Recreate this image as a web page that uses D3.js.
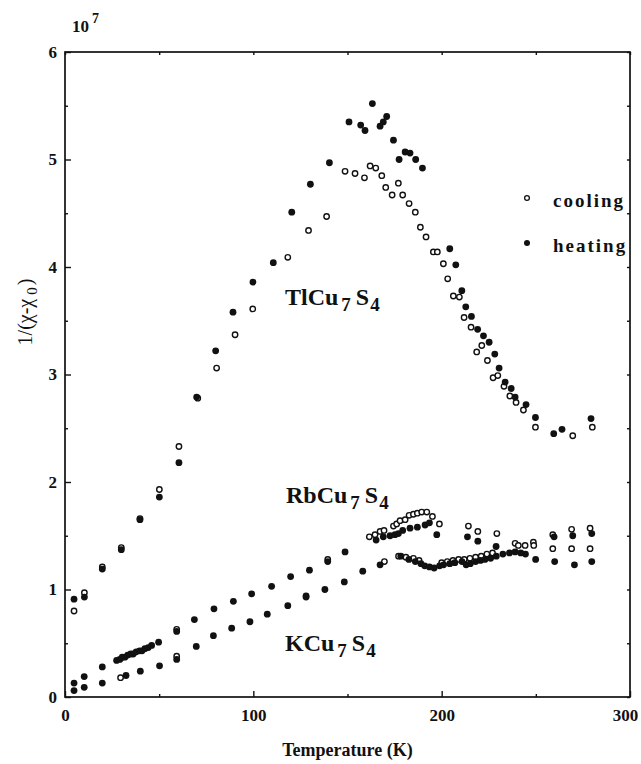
<!DOCTYPE html>
<html>
<head>
<meta charset="utf-8">
<script src="https://cdn.jsdelivr.net/npm/d3@7"></script>
<style>
  html, body { margin: 0; padding: 0; background: #fff; }
  svg { display: block; }
  text { font-family: "Liberation Serif", "DejaVu Serif", serif; fill: #111; }
</style>
</head>
<body>
<svg id="chart" width="641" height="764"></svg>
<script>
// Temperature (K) and 1/(chi - chi0) in units of 1e7, per compound and run.
const tlCoolingT = [4.8, 10.3, 19.8, 29.9, 39.8, 50.1, 60.5, 70.5, 80.5, 90.3, 99.7, 118.3, 129.3, 138.9, 148.7, 154, 159, 162, 165, 168.2, 170.3, 173.7, 177, 179.3, 182.7, 186, 188.7, 191.7, 195.6, 197.7, 200.9, 203.2, 206.2, 209.4, 211.9, 215.6, 218.6, 221.3, 224.3, 227.3, 229.8, 233.1, 236.2, 239.5, 243.4, 249.8, 269.6, 280];
const tlCoolingV = [0.80, 0.97, 1.21, 1.39, 1.66, 1.93, 2.33, 2.78, 3.06, 3.37, 3.61, 4.09, 4.34, 4.47, 4.89, 4.87, 4.83, 4.94, 4.92, 4.85, 4.74, 4.67, 4.78, 4.67, 4.59, 4.51, 4.37, 4.28, 4.14, 4.14, 4.03, 3.89, 3.73, 3.72, 3.53, 3.44, 3.21, 3.27, 3.13, 2.97, 2.99, 2.89, 2.80, 2.74, 2.67, 2.51, 2.43, 2.51];

const tlHeatingT = [4.8, 10.3, 19.8, 29.9, 39.8, 50.1, 60.5, 69.9, 80.0, 89.2, 99.8, 110.6, 120.4, 130.3, 140.4, 150.8, 157, 159.3, 163.2, 167.3, 169, 170.8, 174.4, 177.4, 180.6, 183.2, 186.2, 189.8, 204.3, 207.5, 210.7, 212.8, 215.8, 219.1, 222.2, 225.2, 228.2, 230.5, 233.7, 236.9, 239, 244.8, 249.8, 259.5, 263.9, 279.3];
const tlHeatingV = [0.91, 0.93, 1.19, 1.37, 1.65, 1.86, 2.18, 2.79, 3.22, 3.58, 3.86, 4.04, 4.51, 4.77, 4.97, 5.35, 5.32, 5.27, 5.52, 5.31, 5.35, 5.40, 5.18, 5.00, 5.07, 5.06, 5.00, 4.92, 4.17, 4.02, 3.78, 3.63, 3.54, 3.42, 3.36, 3.30, 3.19, 3.06, 2.93, 2.87, 2.79, 2.72, 2.60, 2.45, 2.49, 2.59];

const rbCoolingT = [59.3, 139.5, 161.6, 164.6, 167.3, 169.4, 174.4, 176.1, 177.9, 180.6, 182.7, 185, 187.1, 189.4, 192.1, 195.1, 198.8, 214.2, 219.2, 229.3, 259, 269, 278.8];
const rbCoolingV = [0.63, 1.28, 1.49, 1.51, 1.54, 1.55, 1.59, 1.61, 1.64, 1.65, 1.69, 1.70, 1.71, 1.72, 1.72, 1.68, 1.61, 1.59, 1.54, 1.52, 1.51, 1.56, 1.57];

const rbHeatingT = [4.8, 10.2, 19.8, 27.4, 29.1, 30.4, 31.8, 33.3, 34.9, 36.2, 37.8, 39.6, 40.9, 42.4, 44.2, 46, 49.7, 59.3, 68.7, 79.1, 89.4, 99.1, 109.7, 119.8, 129.8, 139.5, 148.7, 165.2, 169, 172.6, 175.2, 177, 179.3, 183.2, 187.1, 191.2, 193.5, 197.4, 213.7, 219.2, 228.9, 259.7, 269.6, 279.7];
const rbHeatingV = [0.13, 0.19, 0.28, 0.34, 0.35, 0.37, 0.37, 0.39, 0.40, 0.40, 0.42, 0.43, 0.43, 0.45, 0.46, 0.48, 0.51, 0.61, 0.72, 0.82, 0.89, 0.96, 1.03, 1.12, 1.18, 1.26, 1.35, 1.46, 1.49, 1.50, 1.51, 1.52, 1.55, 1.57, 1.58, 1.60, 1.62, 1.51, 1.49, 1.45, 1.40, 1.49, 1.50, 1.52];

const kCoolingT = [29.5, 59.3, 128, 169.6, 177.1, 181, 185, 188, 200, 203, 206, 209, 212, 215, 218, 221, 224, 227, 239, 240.7, 244.3, 248.7, 248.9, 259, 269, 278.8];
const kCoolingV = [0.18, 0.38, 0.94, 1.26, 1.31, 1.30, 1.29, 1.27, 1.25, 1.26, 1.27, 1.28, 1.28, 1.29, 1.30, 1.31, 1.33, 1.34, 1.43, 1.41, 1.41, 1.44, 1.41, 1.38, 1.38, 1.38];

const kHeatingT = [4.8, 10.2, 19.8, 32.4, 40, 50.2, 59.3, 69.7, 78.8, 88.5, 98.2, 107.4, 118.3, 128, 138, 148.3, 158.1, 167.3, 178.3, 182.6, 186, 189, 191, 193.5, 196, 198.9, 201, 204.3, 207, 210.8, 213, 215.2, 218, 220.6, 223, 226, 229, 232.5, 236, 239, 242, 244.5, 249.9, 260, 270.5, 279.7];
const kHeatingV = [0.06, 0.09, 0.13, 0.20, 0.24, 0.29, 0.35, 0.47, 0.57, 0.64, 0.70, 0.77, 0.85, 0.93, 1.00, 1.07, 1.17, 1.23, 1.31, 1.28, 1.26, 1.24, 1.22, 1.21, 1.20, 1.22, 1.23, 1.24, 1.25, 1.26, 1.23, 1.24, 1.26, 1.27, 1.28, 1.29, 1.31, 1.33, 1.34, 1.35, 1.34, 1.33, 1.28, 1.26, 1.23, 1.26];

const xTicks = [0, 100, 200, 300];
const xMinorTicks = [50, 150, 250];
const yTicks = [0, 1, 2, 3, 4, 5, 6];
const yMinorTicks = [0.5, 1.5, 2.5, 3.5, 4.5, 5.5];

const svg = d3.select("#chart");
const plotLeft = 65, plotRight = 630, plotTop = 52, plotBottom = 697;

const x = d3.scaleLinear().domain([0, 300]).range([plotLeft, plotRight]);
const y = d3.scaleLinear().domain([0, 6]).range([plotBottom, plotTop]);

const zip = (ts, vs) => ts.map((t, i) => ({ t, v: vs[i] }));

// Frame
svg.append("rect")
  .attr("x", plotLeft).attr("y", plotTop)
  .attr("width", plotRight - plotLeft).attr("height", plotBottom - plotTop)
  .attr("fill", "none").attr("stroke", "#111").attr("stroke-width", 1.7);

function styleAxis(g, size) {
  g.select(".domain").remove();
  g.selectAll(".tick line").attr("stroke", "#111").attr("stroke-width", 1.4);
  g.selectAll(".tick text")
    .attr("font-family", "Liberation Serif, serif")
    .attr("font-weight", "bold")
    .attr("font-size", size)
    .attr("fill", "#111");
}

// Bottom axis with inward ticks; the last label is nudged inside the page edge
svg.append("g").attr("transform", `translate(0,${plotBottom})`)
  .call(d3.axisBottom(x).tickValues(xTicks).tickSizeInner(-6).tickSizeOuter(0).tickPadding(12).tickFormat(d3.format("d")))
  .call(g => styleAxis(g, 17))
  .call(g => g.selectAll(".tick text").filter(d => d === 300).attr("dx", -5));
svg.append("g").attr("transform", `translate(0,${plotBottom})`)
  .call(d3.axisBottom(x).tickValues(xMinorTicks).tickSizeInner(-3).tickSizeOuter(0).tickFormat(""))
  .call(g => styleAxis(g, 17));

// Top axis ticks
svg.append("g").attr("transform", `translate(0,${plotTop})`)
  .call(d3.axisTop(x).tickValues(xTicks.concat(xMinorTicks)).tickSizeInner(-3).tickSizeOuter(0).tickFormat(""))
  .call(g => styleAxis(g, 17));

// Left axis
svg.append("g").attr("transform", `translate(${plotLeft},0)`)
  .call(d3.axisLeft(y).tickValues(yTicks).tickSizeInner(-6).tickSizeOuter(0).tickPadding(8).tickFormat(d3.format("d")))
  .call(g => styleAxis(g, 17));
svg.append("g").attr("transform", `translate(${plotLeft},0)`)
  .call(d3.axisLeft(y).tickValues(yMinorTicks).tickSizeInner(-3).tickSizeOuter(0).tickFormat(""))
  .call(g => styleAxis(g, 17));

// Right axis ticks
svg.append("g").attr("transform", `translate(${plotRight},0)`)
  .call(d3.axisRight(y).tickValues(yTicks.concat(yMinorTicks)).tickSizeInner(-3).tickSizeOuter(0).tickFormat(""))
  .call(g => styleAxis(g, 17));

// Scale factor above the y axis
const exp = svg.append("text").attr("x", 72).attr("y", 32)
  .attr("font-weight", "bold").attr("font-size", 17);
exp.append("tspan").text("10");
exp.append("tspan").attr("dx", 3).attr("dy", -9).attr("font-size", 14).text("7");

// Axis titles
svg.append("text")
  .attr("x", (plotLeft + plotRight) / 2).attr("y", 756)
  .attr("text-anchor", "middle")
  .attr("font-weight", "bold").attr("font-size", 18)
  .text("Temperature (K)");

const yTitle = svg.append("text")
  .attr("transform", "translate(32,312) rotate(-90)")
  .attr("text-anchor", "middle")
  .attr("font-size", 20);
yTitle.append("tspan").text("1/(χ-χ");
yTitle.append("tspan").attr("dx", 4).attr("dy", 5).attr("font-size", 15).text("0");
yTitle.append("tspan").attr("dx", 2).attr("dy", -5).text(")");

// Markers
const plot = svg.append("g");
function drawOpen(data) {
  plot.append("g").selectAll("circle").data(data).join("circle")
    .attr("cx", d => x(d.t)).attr("cy", d => y(d.v)).attr("r", 2.7)
    .attr("fill", "#fff").attr("stroke", "#111").attr("stroke-width", 1.4);
}
function drawFilled(data) {
  plot.append("g").selectAll("circle").data(data).join("circle")
    .attr("cx", d => x(d.t)).attr("cy", d => y(d.v)).attr("r", 3.4)
    .attr("fill", "#111");
}
drawOpen(zip(tlCoolingT, tlCoolingV));
drawOpen(zip(rbCoolingT, rbCoolingV));
drawOpen(zip(kCoolingT, kCoolingV));
drawFilled(zip(tlHeatingT, tlHeatingV));
drawFilled(zip(rbHeatingT, rbHeatingV));
drawFilled(zip(kHeatingT, kHeatingV));

// Compound labels
function formula(xp, yp, head) {
  const t = svg.append("text").attr("x", xp).attr("y", yp)
    .attr("font-weight", "bold").attr("font-size", 24);
  t.append("tspan").text(head);
  t.append("tspan").attr("dx", 3).attr("dy", 6).attr("font-size", 19).text("7");
  t.append("tspan").attr("dx", 5).attr("dy", -6).text("S");
  t.append("tspan").attr("dx", 1).attr("dy", 6).attr("font-size", 19).text("4");
}
formula(285, 305, "TlCu");
formula(286, 503, "RbCu");
formula(285, 651, "KCu");

// Legend
const legend = [
  { label: "cooling", open: true, yy: 198 },
  { label: "heating", open: false, yy: 243 }
];
legend.forEach(l => {
  svg.append("circle").attr("cx", 527).attr("cy", l.yy)
    .attr("r", l.open ? 2.4 : 3)
    .attr("fill", l.open ? "#fff" : "#111")
    .attr("stroke", "#111").attr("stroke-width", l.open ? 1.3 : 0);
  svg.append("text").attr("x", 553).attr("y", l.yy + 9)
    .attr("font-weight", "bold").attr("font-size", 19)
    .attr("letter-spacing", 2)
    .text(l.label);
});
</script>
</body>
</html>
